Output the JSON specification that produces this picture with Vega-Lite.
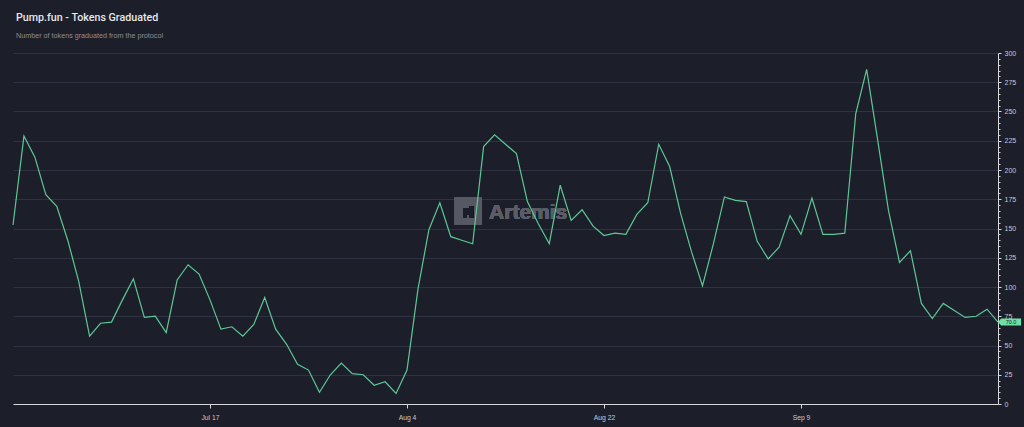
{
  "$schema": "https://vega.github.io/schema/vega-lite/v6.json",
  "width": 985,
  "height": 351,
  "autosize": "none",
  "padding": {"left": 13, "top": 53, "right": 26, "bottom": 23},
  "background": "#1c1e2a",
  "config": {
    "view": {"stroke": null},
    "font": "Liberation Sans"
  },
  "title": {
    "text": "Pump.fun - Tokens Graduated",
    "subtitle": "Number of tokens graduated from the protocol",
    "anchor": "start",
    "frame": "group",
    "dx": 3,
    "offset": 9,
    "font": "Roboto",
    "fontSize": 10.7,
    "fontWeight": 500,
    "color": "#e8e8ec",
    "subtitleFont": "Liberation Sans",
    "subtitleFontSize": 7.2,
    "subtitleColor": "#8c8f9b",
    "subtitlePadding": 8
  },
  "data": {
    "values": [
      {"date": "2024-06-29", "tokens": 153},
      {"date": "2024-06-30", "tokens": 229},
      {"date": "2024-07-01", "tokens": 211},
      {"date": "2024-07-02", "tokens": 179},
      {"date": "2024-07-03", "tokens": 169},
      {"date": "2024-07-04", "tokens": 140},
      {"date": "2024-07-05", "tokens": 105},
      {"date": "2024-07-06", "tokens": 58},
      {"date": "2024-07-07", "tokens": 69},
      {"date": "2024-07-08", "tokens": 70},
      {"date": "2024-07-09", "tokens": 89},
      {"date": "2024-07-10", "tokens": 107},
      {"date": "2024-07-11", "tokens": 74},
      {"date": "2024-07-12", "tokens": 75},
      {"date": "2024-07-13", "tokens": 61},
      {"date": "2024-07-14", "tokens": 106},
      {"date": "2024-07-15", "tokens": 119},
      {"date": "2024-07-16", "tokens": 111},
      {"date": "2024-07-17", "tokens": 89},
      {"date": "2024-07-18", "tokens": 64},
      {"date": "2024-07-19", "tokens": 66},
      {"date": "2024-07-20", "tokens": 58},
      {"date": "2024-07-21", "tokens": 68},
      {"date": "2024-07-22", "tokens": 91},
      {"date": "2024-07-23", "tokens": 64},
      {"date": "2024-07-24", "tokens": 51},
      {"date": "2024-07-25", "tokens": 34},
      {"date": "2024-07-26", "tokens": 29},
      {"date": "2024-07-27", "tokens": 10},
      {"date": "2024-07-28", "tokens": 25},
      {"date": "2024-07-29", "tokens": 35},
      {"date": "2024-07-30", "tokens": 26},
      {"date": "2024-07-31", "tokens": 25},
      {"date": "2024-08-01", "tokens": 16},
      {"date": "2024-08-02", "tokens": 19},
      {"date": "2024-08-03", "tokens": 9},
      {"date": "2024-08-04", "tokens": 29},
      {"date": "2024-08-05", "tokens": 98},
      {"date": "2024-08-06", "tokens": 149},
      {"date": "2024-08-07", "tokens": 172},
      {"date": "2024-08-08", "tokens": 143},
      {"date": "2024-08-09", "tokens": 140},
      {"date": "2024-08-10", "tokens": 137},
      {"date": "2024-08-11", "tokens": 220},
      {"date": "2024-08-12", "tokens": 230},
      {"date": "2024-08-13", "tokens": 222},
      {"date": "2024-08-14", "tokens": 214},
      {"date": "2024-08-15", "tokens": 173},
      {"date": "2024-08-16", "tokens": 154},
      {"date": "2024-08-17", "tokens": 137},
      {"date": "2024-08-18", "tokens": 187},
      {"date": "2024-08-19", "tokens": 157},
      {"date": "2024-08-20", "tokens": 166},
      {"date": "2024-08-21", "tokens": 152},
      {"date": "2024-08-22", "tokens": 144},
      {"date": "2024-08-23", "tokens": 146},
      {"date": "2024-08-24", "tokens": 145},
      {"date": "2024-08-25", "tokens": 162},
      {"date": "2024-08-26", "tokens": 172},
      {"date": "2024-08-27", "tokens": 222},
      {"date": "2024-08-28", "tokens": 203},
      {"date": "2024-08-29", "tokens": 163},
      {"date": "2024-08-30", "tokens": 130},
      {"date": "2024-08-31", "tokens": 101},
      {"date": "2024-09-01", "tokens": 137},
      {"date": "2024-09-02", "tokens": 177},
      {"date": "2024-09-03", "tokens": 174},
      {"date": "2024-09-04", "tokens": 173},
      {"date": "2024-09-05", "tokens": 139},
      {"date": "2024-09-06", "tokens": 124},
      {"date": "2024-09-07", "tokens": 134},
      {"date": "2024-09-08", "tokens": 161},
      {"date": "2024-09-09", "tokens": 145},
      {"date": "2024-09-10", "tokens": 176},
      {"date": "2024-09-11", "tokens": 145},
      {"date": "2024-09-12", "tokens": 145},
      {"date": "2024-09-13", "tokens": 146},
      {"date": "2024-09-14", "tokens": 248},
      {"date": "2024-09-15", "tokens": 286},
      {"date": "2024-09-16", "tokens": 226},
      {"date": "2024-09-17", "tokens": 165},
      {"date": "2024-09-18", "tokens": 121},
      {"date": "2024-09-19", "tokens": 131},
      {"date": "2024-09-20", "tokens": 86},
      {"date": "2024-09-21", "tokens": 73},
      {"date": "2024-09-22", "tokens": 86},
      {"date": "2024-09-23", "tokens": 80},
      {"date": "2024-09-24", "tokens": 74},
      {"date": "2024-09-25", "tokens": 75},
      {"date": "2024-09-26", "tokens": 81},
      {"date": "2024-09-27", "tokens": 70}
    ]
  },
  "encoding": {
    "x": {
      "field": "date",
      "type": "temporal",
      "scale": {
        "type": "utc",
        "domain": [
          {"year": 2024, "month": 6, "date": 29, "utc": true},
          {"year": 2024, "month": 9, "date": 27, "utc": true}
        ],
        "nice": false
      },
      "axis": {
        "title": null,
        "values": [
          {"year": 2024, "month": 7, "date": 17, "utc": true},
          {"year": 2024, "month": 8, "date": 4, "utc": true},
          {"year": 2024, "month": 8, "date": 22, "utc": true},
          {"year": 2024, "month": 9, "date": 9, "utc": true}
        ],
        "format": "%b %-d",
        "grid": false,
        "domainColor": "#d8d8dc",
        "domainWidth": 1,
        "tickColor": "#d8d8dc",
        "tickSize": 4,
        "labelColor": "#c9cad0",
        "labelFontSize": 6.8,
        "labelPadding": 6,
        "labelFont": "Liberation Sans"
      }
    },
    "y": {
      "field": "tokens",
      "type": "quantitative",
      "scale": {"domain": [0, 300], "nice": false, "zero": true},
      "axis": {
        "title": null,
        "orient": "right",
        "values": [0,5,10,15,20,25,30,35,40,45,50,55,60,65,70,75,80,85,90,95,100,105,110,115,120,125,130,135,140,145,150,155,160,165,170,175,180,185,190,195,200,205,210,215,220,225,230,235,240,245,250,255,260,265,270,275,280,285,290,295,300],
        "labelExpr": "datum.value % 25 === 0 ? datum.label : ''",
        "labelOverlap": false,
        "labelFlush": false,
        "labelColor": "#c9cad0",
        "labelFontSize": 7,
        "labelPadding": 3,
        "labelFont": "Liberation Sans",
        "domainColor": "#d8d8dc",
        "domainWidth": 1,
        "tickColor": "#d8d8dc",
        "tickSize": {"condition": {"test": "datum.value % 25 === 0", "value": 3}, "value": 2},
        "grid": true,
        "gridColor": "#2f3242",
        "gridWidth": 1,
        "gridOpacity": {"condition": {"test": "datum.value % 25 === 0 && datum.value > 0", "value": 1}, "value": 0}
      }
    }
  },
  "layer": [
    {
      "mark": {"type": "point", "shape": "square", "filled": true, "size": 729, "color": "#565964", "opacity": 0.9},
      "encoding": {
        "x": {"datum": {"year": 2024, "month": 8, "date": 9, "hours": 14, "utc": true}, "type": "temporal"},
        "y": {"datum": 165, "type": "quantitative"}
      }
    },
    {
      "mark": {"type": "point", "shape": "M-0.5,-0.35 L0.1,-0.35 L0.1,-0.6 L0.5,-0.6 L0.5,0.6 L0.15,0.6 L0.15,0.3 L-0.15,0.3 L-0.15,0.6 L-0.5,0.6 Z", "filled": true, "size": 400, "color": "#1c1e2a", "opacity": 0.9},
      "encoding": {
        "x": {"datum": {"year": 2024, "month": 8, "date": 9, "hours": 14, "utc": true}, "type": "temporal"},
        "y": {"datum": 164, "type": "quantitative"}
      }
    },
    {
      "mark": {"type": "text", "text": "Artemis", "align": "left", "baseline": "middle", "fontSize": 21, "fontWeight": "bold", "font": "Liberation Sans", "color": "#5a5d68"},
      "encoding": {
        "x": {"datum": {"year": 2024, "month": 8, "date": 11, "hours": 12, "utc": true}, "type": "temporal"},
        "y": {"datum": 163, "type": "quantitative"}
      }
    },
    {
      "mark": {"type": "line", "color": "#5cc896", "strokeWidth": 1.2, "interpolate": "linear"}
    },
    {
      "transform": [{"filter": "time(datum.date) === utc(2024, 8, 27)"}],
      "mark": {"type": "point", "shape": "M0,0 L0.45,-0.5 L3.3,-0.5 L3.3,0.5 L0.45,0.5 Z", "filled": true, "size": 196, "color": "#6ee0a4", "opacity": 1, "clip": false}
    },
    {
      "transform": [{"filter": "time(datum.date) === utc(2024, 8, 27)"}],
      "mark": {"type": "text", "align": "center", "baseline": "middle", "dx": 13, "fontSize": 5.5, "color": "#1c1e2a", "font": "Liberation Sans"},
      "encoding": {"text": {"field": "tokens", "type": "quantitative", "format": ".1f"}}
    }
  ]
}
